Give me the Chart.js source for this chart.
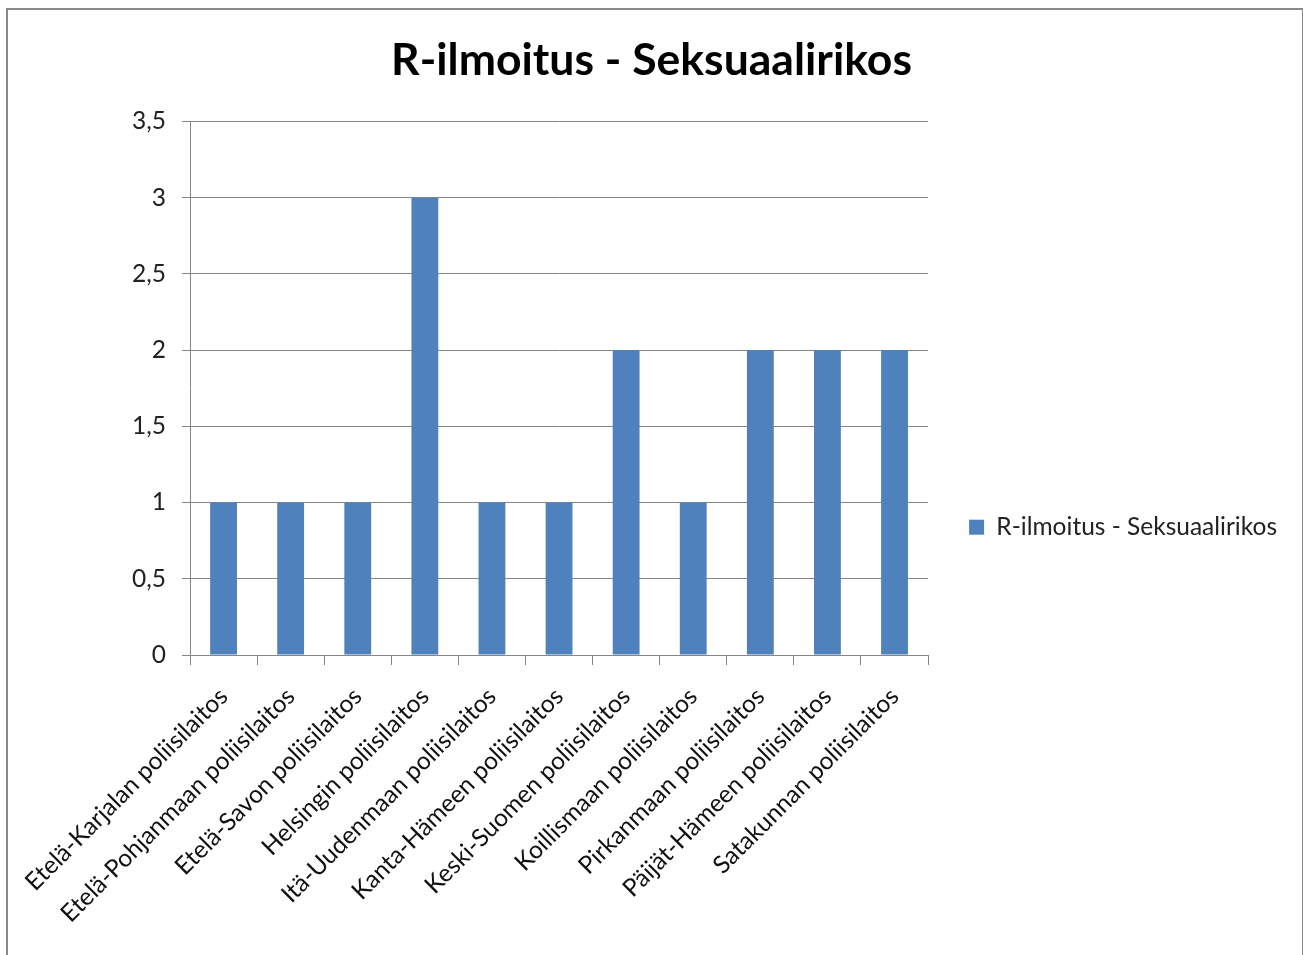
<!DOCTYPE html>
<html>
<head>
<meta charset="utf-8">
<script src="https://cdn.jsdelivr.net/npm/chart.js@4.4.1/dist/chart.umd.min.js"></script>
<style>
    html, body { margin: 0; padding: 0; background: #fff; overflow: hidden; }
    #wrap { position: relative; width: 1303px; height: 955px; }
    #frame {
        position: absolute; left: 6px; top: 8px; width: 1294px; height: 1000px;
        border: 2px solid #8a8a8a; pointer-events: none;
    }
</style>
</head>
<body>
<div id="wrap">
    <canvas id="chart" width="1303" height="955"></canvas>
    <div id="frame"></div>
</div>
<script>
// Chart data
const categories = [
    'Etelä-Karjalan poliisilaitos',
    'Etelä-Pohjanmaan poliisilaitos',
    'Etelä-Savon poliisilaitos',
    'Helsingin poliisilaitos',
    'Itä-Uudenmaan poliisilaitos',
    'Kanta-Hämeen poliisilaitos',
    'Keski-Suomen poliisilaitos',
    'Koillismaan poliisilaitos',
    'Pirkanmaan poliisilaitos',
    'Päijät-Hämeen poliisilaitos',
    'Satakunnan poliisilaitos'
];
const seriesName = 'R-ilmoitus - Seksuaalirikos';
const seriesValues = [1, 1, 1, 3, 1, 1, 2, 1, 2, 2, 2];
const yTicks = [0, 0.5, 1, 1.5, 2, 2.5, 3, 3.5];

const FONT = 'Lato, "Open Sans", sans-serif';
const GRID = '#868686';

const ctx = document.getElementById('chart');
new Chart(ctx, {
    type: 'bar',
    data: {
        labels: categories,
        datasets: [{
            label: seriesName,
            data: seriesValues,
            backgroundColor: '#4f81bd',
            borderWidth: 0,
            categoryPercentage: 1,
            barPercentage: 0.4
        }]
    },
    options: {
        responsive: false,
        devicePixelRatio: 1,
        animation: false,
        layout: { padding: { top: 0, left: 16, right: 16, bottom: 0 } },
        plugins: {
            title: {
                display: true,
                text: seriesName,
                color: '#000',
                font: { family: FONT, size: 44.5, weight: 'bold' },
                padding: { top: 34, bottom: 34 }
            },
            legend: {
                position: 'right',
                maxWidth: 420,
                // empty title pushes the legend item down to where the reference has it
                title: { display: true, text: '', padding: { top: 85, bottom: 0 } },
                labels: {
                    color: '#222',
                    font: { family: FONT, size: 24.5 },
                    boxWidth: 15,
                    boxHeight: 15,
                    padding: 41
                }
            },
            tooltip: { enabled: false }
        },
        scales: {
            x: {
                offset: true,
                grid: {
                    display: true,
                    offset: true,
                    drawOnChartArea: false,
                    color: GRID,
                    tickLength: 10
                },
                border: { color: GRID },
                ticks: {
                    autoSkip: false,
                    maxRotation: 45,
                    minRotation: 45,
                    padding: 17,
                    color: '#111',
                    font: { family: FONT, size: 24.5 }
                },
                afterFit(scale) { scale.height = 300; }
            },
            y: {
                min: 0,
                max: 3.5,
                grid: { color: GRID, tickLength: 8 },
                border: { color: GRID },
                afterBuildTicks(scale) {
                    scale.ticks = yTicks.map(v => ({ value: v }));
                },
                ticks: {
                    color: '#222',
                    padding: 16,
                    font: { family: FONT, size: 24.5 },
                    callback: (v) => String(v).replace('.', ',')
                },
                afterFit(scale) { scale.width = 174; }
            }
        }
    }
});
</script>
</body>
</html>
